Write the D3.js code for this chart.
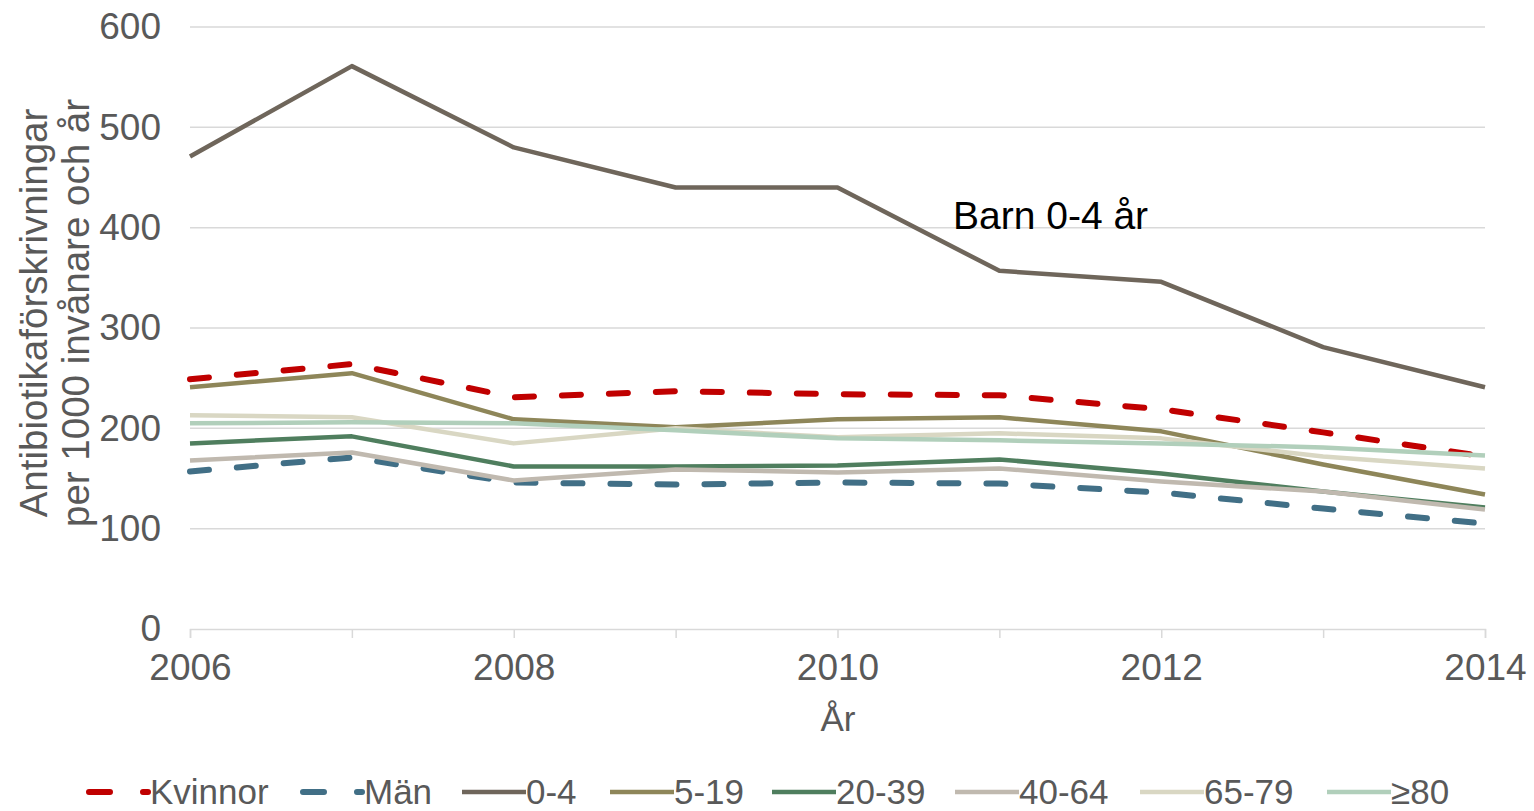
<html>
<head>
<meta charset="utf-8">
<script src="https://d3js.org/d3.v7.min.js"></script>
<style>
body { margin: 0; background: #fff; }
text { font-family: "Liberation Sans", Arial, sans-serif; }
</style>
</head>
<body>
<svg width="1534" height="811"></svg>
<script>
var years = [2006, 2007, 2008, 2009, 2010, 2011, 2012, 2013, 2014];
var yTicks = [0, 100, 200, 300, 400, 500, 600];
var xTicks = [2006, 2008, 2010, 2012, 2014];

var kvinnor = [249, 264, 231, 237, 234, 233, 219, 196, 172];
var man     = [157, 171, 146, 144, 146, 145, 136, 120, 105];
var age0_4  = [471, 561, 480, 440, 440, 357, 346, 281, 241];
var age5_19 = [241, 255, 209, 201, 209, 211, 197, 164, 134];
var age20_39 = [185, 192, 162, 162, 163, 169, 155, 137, 121];
var age40_64 = [168, 176, 148, 159, 156, 160, 147, 137, 119];
var age65_79 = [213, 211, 185, 200, 191, 195, 190, 172, 160];
var age80   = [205, 206, 205, 198, 190, 188, 185, 181, 173];

var seriesNames = ["Kvinnor", "Män", "0-4", "5-19", "20-39", "40-64", "65-79", "≥80"];
var seriesValues = [kvinnor, man, age0_4, age5_19, age20_39, age40_64, age65_79, age80];
var seriesColors = ["#C00000", "#416F86", "#6F665B", "#8E8659", "#4F7E5E", "#C0B9AF", "#D9D7C3", "#B1CFBB"];
var seriesDashed = [true, true, false, false, false, false, false, false];

var svg = d3.select("svg");
var plotLeft = 190, plotRight = 1485, plotTop = 27, plotBottom = 629;

var x = d3.scaleLinear().domain([2006, 2014]).range([plotLeft, plotRight]);
var y = d3.scaleLinear().domain([0, 600]).range([plotBottom, plotTop]);

// grid
svg.append("g").selectAll("line").data(yTicks.filter(function(d){return d > 0;})).enter()
  .append("line")
  .attr("x1", plotLeft).attr("x2", plotRight)
  .attr("y1", function(d){return y(d);}).attr("y2", function(d){return y(d);})
  .attr("stroke", "#D9D9D9").attr("stroke-width", 1.5);

// x axis
var xAxis = svg.append("g").attr("transform", "translate(0," + plotBottom + ")")
  .call(d3.axisBottom(x).tickValues(years).tickSize(9).tickFormat(function(d){return xTicks.indexOf(d) >= 0 ? d : "";}));
xAxis.select(".domain").attr("stroke", "#D9D9D9").attr("stroke-width", 1.5);
xAxis.selectAll(".tick line").attr("stroke", "#D9D9D9").attr("stroke-width", 1.5);
xAxis.selectAll(".tick text").attr("fill", "#595959").attr("font-size", 37)
  .attr("font-family", "Liberation Sans, Arial, sans-serif").attr("y", 18).attr("dy", "0.9em");

// y axis
var yAxis = svg.append("g").attr("transform", "translate(" + plotLeft + ",0)")
  .call(d3.axisLeft(y).tickValues(yTicks).tickSize(0).tickPadding(29));
yAxis.select(".domain").remove();
yAxis.selectAll(".tick text").attr("fill", "#595959").attr("font-size", 37)
  .attr("font-family", "Liberation Sans, Arial, sans-serif");

// lines
var line = d3.line().x(function(d, i){return x(years[i]);}).y(function(d){return y(d);});
seriesValues.forEach(function(vals, i) {
  svg.append("path").datum(vals)
    .attr("d", line)
    .attr("fill", "none")
    .attr("stroke", seriesColors[i])
    .attr("stroke-width", seriesDashed[i] ? 6 : 4.5)
    .attr("stroke-linecap", seriesDashed[i] ? "round" : "butt")
    .attr("stroke-linejoin", "round")
    .attr("stroke-dasharray", seriesDashed[i] ? "19,28" : null);
});

// annotation
svg.append("text").attr("x", 953).attr("y", 229).attr("font-size", 39).attr("fill", "#000")
  .text("Barn 0-4 år");

// axis titles
svg.append("text").attr("x", 838).attr("y", 731).attr("text-anchor", "middle")
  .attr("font-size", 35).attr("fill", "#595959").text("År");
var yt = svg.append("text").attr("transform", "translate(0,313) rotate(-90)")
  .attr("text-anchor", "middle").attr("font-size", 38.5).attr("fill", "#595959");
yt.append("tspan").attr("x", 0).attr("y", 47).text("Antibiotikaförskrivningar");
yt.append("tspan").attr("x", 0).attr("y", 89).text("per 1000 invånare och år");

// legend
var legendX = [86, 300, 462, 610, 772, 955, 1140, 1327];
var legendY = 792;
seriesNames.forEach(function(name, i) {
  var g = svg.append("g").attr("transform", "translate(" + legendX[i] + "," + legendY + ")");
  g.append("line").attr("x1", seriesDashed[i] ? 3 : 0).attr("x2", seriesDashed[i] ? 62 : 64)
    .attr("y1", 0).attr("y2", 0)
    .attr("stroke", seriesColors[i])
    .attr("stroke-width", seriesDashed[i] ? 6 : 4.5)
    .attr("stroke-linecap", seriesDashed[i] ? "round" : "butt")
    .attr("stroke-dasharray", seriesDashed[i] ? "21,33" : null);
  g.append("text").attr("x", 64).attr("y", 12).attr("font-size", 35).attr("fill", "#595959").text(name);
});
</script>
</body>
</html>
